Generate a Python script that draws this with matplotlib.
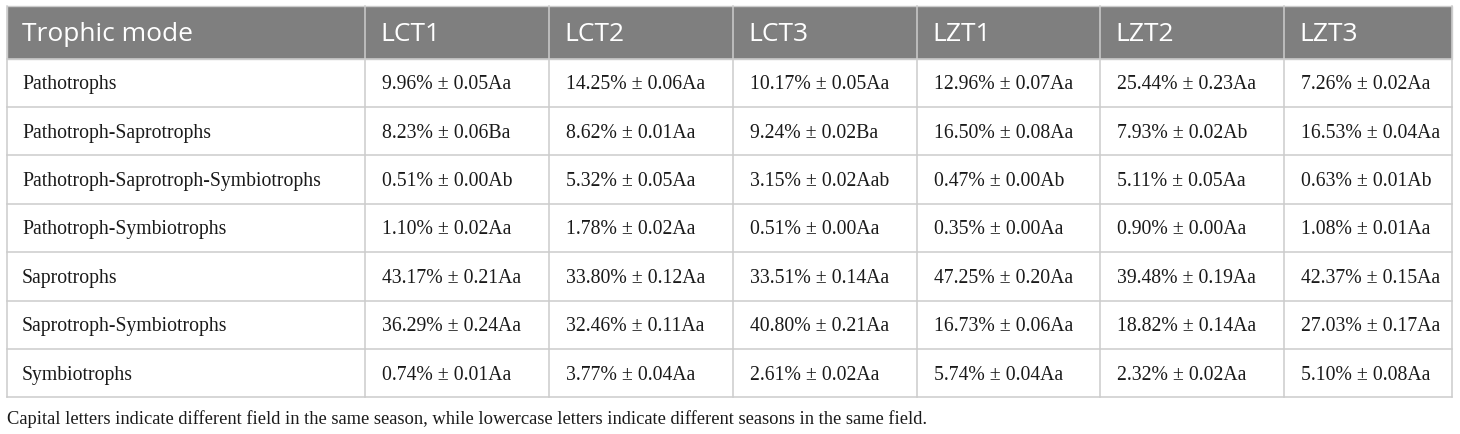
import matplotlib.pyplot as plt
from matplotlib.patches import Rectangle

# table content
modes = ["Pathotrophs", "Pathotroph-Saprotrophs", "Pathotroph-Saprotroph-Symbiotrophs",
         "Pathotroph-Symbiotrophs", "Saprotrophs", "Saprotroph-Symbiotrophs", "Symbiotrophs"]
samples = ["LCT1", "LCT2", "LCT3", "LZT1", "LZT2", "LZT3"]

# mean %, one list per sample
LCT1 = [9.96, 8.23, 0.51, 1.10, 43.17, 36.29, 0.74]
LCT2 = [14.25, 8.62, 5.32, 1.78, 33.80, 32.46, 3.77]
LCT3 = [10.17, 9.24, 3.15, 0.51, 33.51, 40.80, 2.61]
LZT1 = [12.96, 16.50, 0.47, 0.35, 47.25, 16.73, 5.74]
LZT2 = [25.44, 7.93, 5.11, 0.90, 39.48, 18.82, 2.32]
LZT3 = [7.26, 16.53, 0.63, 1.08, 42.37, 27.03, 5.10]

# standard errors
LCT1_se = [0.05, 0.06, 0.00, 0.02, 0.21, 0.24, 0.01]
LCT2_se = [0.06, 0.01, 0.05, 0.02, 0.12, 0.11, 0.04]
LCT3_se = [0.05, 0.02, 0.02, 0.00, 0.14, 0.21, 0.02]
LZT1_se = [0.07, 0.08, 0.00, 0.00, 0.20, 0.06, 0.04]
LZT2_se = [0.23, 0.02, 0.05, 0.00, 0.19, 0.14, 0.02]
LZT3_se = [0.02, 0.04, 0.01, 0.01, 0.15, 0.17, 0.08]

# significance letters
LCT1_sig = ["Aa", "Ba", "Ab", "Aa", "Aa", "Aa", "Aa"]
LCT2_sig = ["Aa", "Aa", "Aa", "Aa", "Aa", "Aa", "Aa"]
LCT3_sig = ["Aa", "Ba", "Aab", "Aa", "Aa", "Aa", "Aa"]
LZT1_sig = ["Aa", "Aa", "Ab", "Aa", "Aa", "Aa", "Aa"]
LZT2_sig = ["Aa", "Ab", "Aa", "Aa", "Aa", "Aa", "Aa"]
LZT3_sig = ["Aa", "Aa", "Ab", "Aa", "Aa", "Aa", "Aa"]

note = ("Capital letters indicate different field in the same season, "
        "while lowercase letters indicate different seasons in the same field.")

means = [LCT1, LCT2, LCT3, LZT1, LZT2, LZT3]
ses = [LCT1_se, LCT2_se, LCT3_se, LZT1_se, LZT2_se, LZT3_se]
sigs = [LCT1_sig, LCT2_sig, LCT3_sig, LZT1_sig, LZT2_sig, LZT3_sig]

# layout in pixels
col_x = [7, 365, 549, 733, 917, 1100, 1284, 1452]
top = 7
head_h = 52.5
row_h = 48.4
line_col = "#cccccc"
head_col = "#7f7f7f"

fig = plt.figure(figsize=(14.6, 4.35), dpi=100)
ax = fig.add_axes([0, 0, 1, 1])
ax.set_xlim(0, 1460)
ax.set_ylim(435, 0)
ax.axis("off")

# header
ax.add_patch(Rectangle((col_x[0], top), col_x[-1] - col_x[0], head_h,
                       facecolor=head_col, edgecolor=line_col, lw=1))
header = ["Trophic mode"] + samples
for i, h in enumerate(header):
    ax.text(col_x[i] + 15, top + head_h / 2 + 1, h, color="white",
            fontsize=19, family="Open Sans", va="center", ha="left")

# body
y0 = top + head_h
n = len(modes)
for r in range(n):
    yc = y0 + r * row_h + row_h / 2 + 1
    ax.text(col_x[0] + 15, yc, modes[r], fontsize=14.2, family="Liberation Serif",
            va="center", ha="left", color="#1a1a1a")
    for c in range(len(samples)):
        s = f"{means[c][r]:.2f}% \u00b1 {ses[c][r]:.2f}{sigs[c][r]}"
        ax.text(col_x[c + 1] + 17, yc, s, fontsize=14.2, family="Liberation Serif",
                va="center", ha="left", color="#1a1a1a")

# grid lines
y_end = y0 + n * row_h
for r in range(n + 1):
    ax.plot([col_x[0], col_x[-1]], [y0 + r * row_h] * 2, color=line_col, lw=1.1)
for x in col_x:
    ax.plot([x, x], [top, y_end], color=line_col, lw=1.1)

ax.text(col_x[0], y_end + 21, note, fontsize=13.3, family="Liberation Serif",
        va="center", ha="left", color="#1a1a1a")

fig.savefig("out.png", dpi=100)
